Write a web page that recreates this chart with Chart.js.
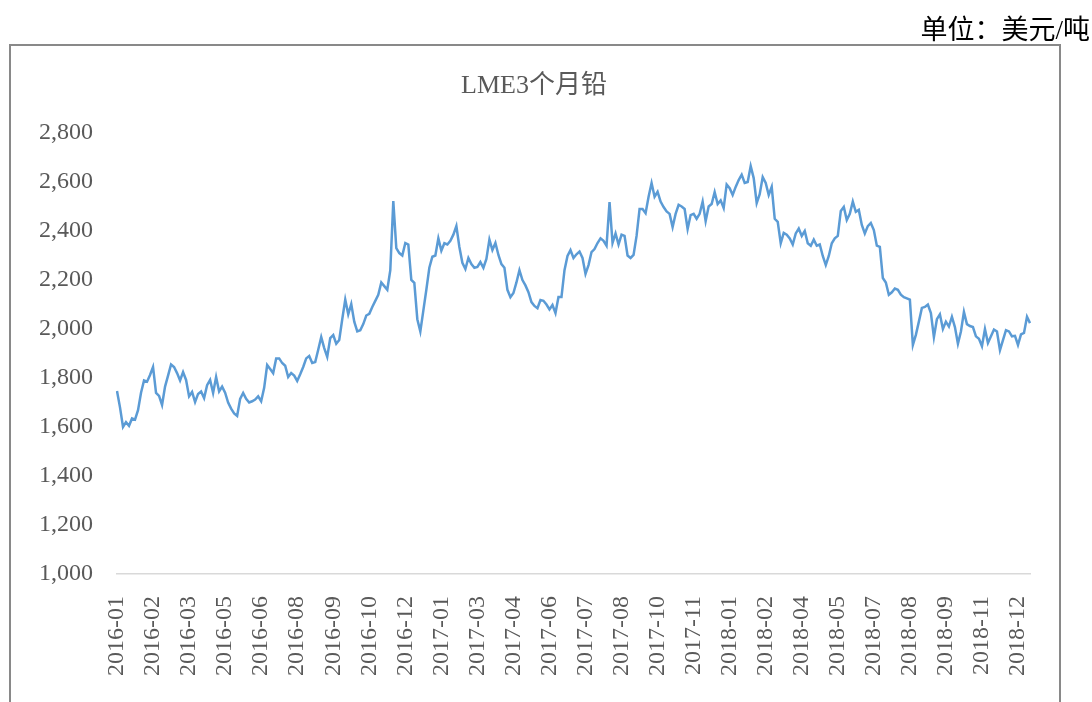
<!DOCTYPE html>
<html>
<head>
<meta charset="utf-8">
<script src="https://cdn.jsdelivr.net/npm/chart.js@4/dist/chart.umd.min.js"></script>
<style>
  body { margin: 0; background: #fff; }
  #wrap { position: relative; width: 1092px; height: 702px; overflow: hidden; }
  #frame { position: absolute; left: 9px; top: 44px; width: 1048px; height: 700px; border: 2px solid #898989; pointer-events: none; }
  #unit { position: absolute; right: 2px; top: 8px; line-height: 30px; font: 27px 'Liberation Serif', 'Noto Sans CJK SC'; color: #000; }
  #title { position: absolute; left: 0; width: 1068px; top: 63px; line-height: 30px; text-align: center; font: 26px 'Liberation Serif', 'Noto Sans CJK SC'; color: #595959; }
</style>
</head>
<body>
<div id="wrap">
  <canvas id="myChart" width="1092" height="702"></canvas>
  <div id="frame"></div>
  <div id="title">LME3个月铅</div>
  <div id="unit">单位：美元/吨</div>
</div>
<script>
// month tick labels shown under the axis (one every 12 points)
const monthTicks = ['2016-01', '2016-02', '2016-03', '2016-05', '2016-06', '2016-08', '2016-09',
  '2016-10', '2016-12', '2017-01', '2017-03', '2017-04', '2017-06', '2017-07', '2017-08',
  '2017-10', '2017-11', '2018-01', '2018-02', '2018-04', '2018-05', '2018-07', '2018-08',
  '2018-09', '2018-11', '2018-12'];

// LME 3-month lead, USD/t, every few trading days
const leadPrice = [
  1747, 1680, 1600, 1620, 1605, 1635, 1630, 1669, 1740, 1790, 1785, 1812,
  1845, 1739, 1727, 1690, 1765, 1810, 1855, 1845, 1820, 1790, 1824, 1792,
  1725, 1743, 1702, 1735, 1745, 1718, 1771, 1792, 1739, 1804, 1745, 1765,
  1740, 1700, 1675, 1655, 1645, 1715, 1739, 1715, 1700, 1705, 1712, 1725,
  1705, 1760, 1853, 1837, 1820, 1880, 1880, 1861, 1850, 1804, 1820, 1810,
  1788, 1815, 1845, 1880, 1890, 1861, 1865, 1915, 1967, 1922, 1886, 1963,
  1975, 1940, 1955, 2040, 2120, 2060, 2102, 2030, 1990, 1995, 2020, 2055,
  2062, 2090, 2115, 2140, 2190, 2175, 2160, 2240, 2522, 2330, 2310, 2300,
  2351, 2345, 2200, 2188, 2040, 1990, 2075, 2160, 2250, 2295, 2300, 2370,
  2320, 2350, 2345, 2360, 2385, 2420, 2335, 2270, 2245, 2290, 2265, 2250,
  2253, 2273, 2250, 2286, 2365, 2322, 2351, 2302, 2265, 2250, 2160, 2130,
  2147, 2190, 2240, 2200, 2178, 2150, 2110, 2094, 2085, 2118, 2115, 2100,
  2080, 2098, 2065, 2131, 2131, 2240, 2298, 2322, 2290, 2305, 2316, 2290,
  2225, 2261, 2314, 2326, 2351, 2370, 2360, 2340, 2518, 2351, 2390, 2345,
  2385, 2380, 2300, 2290, 2302, 2380, 2490, 2490, 2473, 2540, 2596, 2540,
  2560, 2520, 2498, 2480, 2470, 2416, 2470, 2507, 2500, 2490, 2408, 2465,
  2470, 2450, 2470, 2520, 2440, 2500, 2510, 2559, 2510, 2525, 2494, 2590,
  2575, 2547, 2580, 2608, 2630, 2596, 2600, 2665, 2616, 2514, 2550, 2620,
  2596, 2547, 2580, 2450, 2437, 2350, 2392, 2385, 2370, 2345, 2390, 2410,
  2380, 2400, 2350, 2340, 2365, 2340, 2345, 2298, 2261, 2298, 2350, 2370,
  2380, 2482, 2498, 2445, 2470, 2520, 2478, 2486, 2425, 2390, 2420, 2433,
  2404, 2340, 2335, 2208, 2190, 2140, 2150, 2165, 2160, 2140, 2130, 2125,
  2120, 1935, 1976, 2030, 2086, 2090, 2100, 2065, 1967, 2040, 2060, 2000,
  2030, 2010, 2050, 2008, 1940, 1990, 2070, 2020, 2012, 2008, 1970, 1960,
  1930, 2000, 1943, 1970, 1998, 1990, 1914, 1955, 1995, 1990, 1970, 1972,
  1935, 1978, 1984, 2050, 2024
];

//build category labels, only every 12th one carries text
const labels = leadPrice.map((v, i) => (i % 12 === 0 && monthTicks[i / 12]) ? monthTicks[i / 12] : '');

const serif = "'Liberation Serif', 'Noto Sans CJK SC', serif";
Chart.defaults.font.family = serif;
Chart.defaults.font.size = 24;
Chart.defaults.color = '#595959';

const chart = document.getElementById('myChart');

const config = {
  type: 'line',
  data: {
    labels: labels,
    datasets: [{
      label: 'LME3个月铅',
      data: leadPrice,
      borderColor: '#5b9bd5',
      borderWidth: 2.5,
      pointRadius: 0,
      tension: 0,
      fill: false
    }]
  },
  options: {
    responsive: false,
    animation: false,
    layout: {
      padding: { top: 133, right: 62, bottom: 0, left: 0 }
    },
    plugins: {
      legend: { display: false },
      tooltip: { enabled: false },
      title: { display: false }
    },
    scales: {
      x: {
        grid: { display: false, drawTicks: false },
        border: { display: true, color: '#d9d9d9', width: 1.5 },
        ticks: {
          autoSkip: false,
          maxRotation: 90,
          minRotation: 90,
          padding: 22,
          color: '#595959'
        },
        afterFit: (scale) => { scale.height = 128; }
      },
      y: {
        min: 1000,
        max: 2800,
        grid: { display: false, drawTicks: false },
        border: { display: false },
        ticks: {
          stepSize: 200,
          padding: 24,
          color: '#595959',
          callback: (v) => v.toLocaleString('en-US')
        },
        afterFit: (scale) => { scale.width = 117; }
      }
    }
  }
};

let myChart = new Chart(chart, config);
</script>
</body>
</html>
